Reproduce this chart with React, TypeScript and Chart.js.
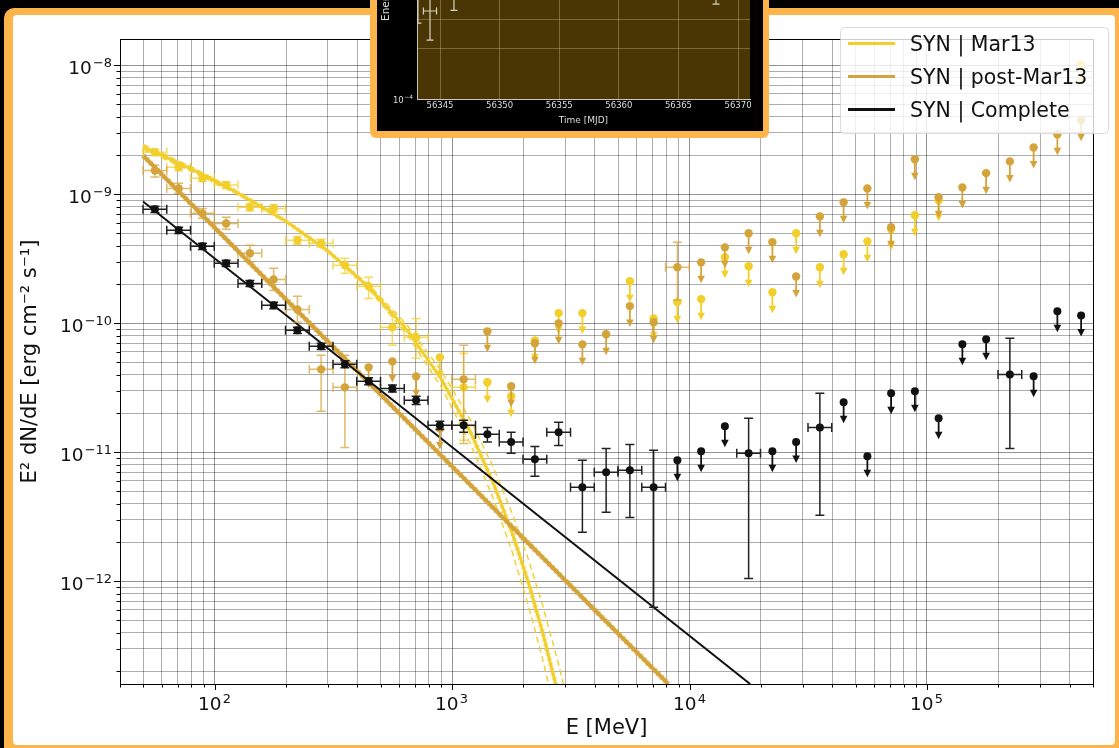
import React, { useEffect, useRef } from "react";
import { Chart, registerables } from "chart.js";

Chart.register(...registerables);

const FONT = "'DejaVu Sans', 'Liberation Sans', sans-serif";
const ORANGE = "#FDB44B";
const YELLOW = "#F2CF2A";
const GOLD = "#D4A43A";
const INK = "#111111";
const _ = null;

// Energy bin edges in MeV (ten bins per decade, 50 MeV - 500 GeV)
const energyEdges = [
  50, 62.95, 79.24, 99.76, 125.6, 158.1, 199.1, 250.6, 315.5, 397.2,
  500, 629.5, 792.4, 997.6, 1256, 1581, 1991, 2506, 3155, 3972,
  5000, 6295, 7924, 9976, 12559, 15811, 19905, 25059, 31548, 39716,
  50000, 62946, 79245, 99763, 125594, 158114, 199054, 250594, 315479, 397164,
  500000,
];

// Mar13 flare interval: detections, 1-sigma bounds and upper limits (erg cm^-2 s^-1)
const mar13Flux = [
  2.12e-9, 1.62e-9, 1.33e-9, 1.18e-9, 7.93e-10, 7.78e-10, 4.4e-10, 4.17e-10, 2.82e-10, 1.94e-10,
  9.31e-11, 7.79e-11, _, 3.19e-11, _, _, _, _, _, _,
  _, _, _, _, _, _, _, _, _, _,
  _, _, _, _, _, _, _, _, _, _,
];
const mar13Low = [
  2.0e-9, 1.53e-9, 1.26e-9, 1.11e-9, 7.45e-10, 7.3e-10, 4.1e-10, 3.88e-10, 2.44e-10, 1.56e-10,
  6.75e-11, 5.36e-11, _, 1.24e-11, _, _, _, _, _, _,
  _, _, _, _, _, _, _, _, _, _,
  _, _, _, _, _, _, _, _, _, _,
];
const mar13High = [
  2.24e-9, 1.71e-9, 1.41e-9, 1.25e-9, 8.45e-10, 8.3e-10, 4.72e-10, 4.48e-10, 3.19e-10, 2.28e-10,
  1.22e-10, 1.09e-10, _, 5.85e-11, _, _, _, _, _, _,
  _, _, _, _, _, _, _, _, _, _,
  _, _, _, _, _, _, _, _, _, _,
];
const mar13Limit = [
  _, _, _, _, _, _, _, _, _, _,
  _, _, 5.45e-11, _, 3.49e-11, 2.72e-11, 7.38e-11, 1.2e-10, 1.2e-10, _,
  2.12e-10, 1.09e-10, 1.46e-10, 1.54e-10, 3.25e-10, 2.77e-10, 1.74e-10, 4.99e-10, 2.72e-10, 3.43e-10,
  4.32e-10, 5.36e-10, 6.88e-10, 8.98e-10, _, _, _, _, _, 1.02e-8,
];

// post-Mar13 interval
const postFlux = [
  1.53e-9, 1.11e-9, 7.12e-10, 5.95e-10, 3.49e-10, 2.19e-10, 1.28e-10, 4.4e-11, 3.19e-11, _,
  _, _, _, 3.68e-11, _, _, _, _, _, _,
  _, _, 2.72e-10, _, _, _, _, _, _, _,
  _, _, _, _, _, _, _, _, _, _,
];
const postLow = [
  1.36e-9, 1.02e-9, 6.53e-10, 5.36e-10, 2.97e-10, 1.8e-10, 1.02e-10, 2.08e-11, 1.09e-11, _,
  _, _, _, 1.17e-11, _, _, _, _, _, _,
  _, _, 1.51e-10, _, _, _, _, _, _, _,
  _, _, _, _, _, _, _, _, _, _,
];
const postHigh = [
  1.68e-9, 1.22e-9, 7.78e-10, 6.64e-10, 4.03e-10, 2.67e-10, 1.62e-10, 5.65e-11, 5.65e-11, _,
  _, _, _, 6.75e-11, _, _, _, _, _, _,
  _, _, 4.25e-10, _, _, _, _, _, _, _,
  _, _, _, _, _, _, _, _, _, _,
];
const postLimit = [
  _, _, _, _, _, _, _, _, _, 4.56e-11,
  5.07e-11, 3.88e-11, 1.53e-11, _, 8.67e-11, 3.25e-11, 7.0e-11, 1.0e-10, 6.87e-11, 8.22e-11,
  1.36e-10, 1.02e-10, _, 2.97e-10, 3.88e-10, 4.99e-10, 4.25e-10, 2.31e-10, 6.75e-10, 8.67e-10,
  1.11e-9, 5.55e-10, 1.87e-9, 9.48e-10, 1.13e-9, 1.46e-9, 1.8e-9, 2.31e-9, 2.92e-9, 3.75e-9,
];

// Complete data set
const compFlux = [
  7.65e-10, 5.26e-10, 3.95e-10, 2.92e-10, 2.04e-10, 1.38e-10, 8.83e-11, 6.64e-11, 4.81e-11, 3.55e-11,
  3.13e-11, 2.53e-11, 1.62e-11, 1.62e-11, 1.38e-11, 1.2e-11, 8.83e-12, 1.43e-11, 5.36e-12, 7.0e-12,
  7.25e-12, 5.36e-12, _, _, _, 9.83e-12, _, _, 1.56e-11, _,
  _, _, _, _, _, _, 4.02e-11, _, _, _,
];
const compLow = [
  7.23e-10, 4.97e-10, 3.73e-10, 2.76e-10, 1.93e-10, 1.3e-10, 8.34e-11, 6.27e-11, 4.52e-11, 3.34e-11,
  2.94e-11, 2.35e-11, 1.5e-11, 1.43e-11, 1.2e-11, 9.83e-12, 6.52e-12, 1.13e-11, 2.4e-12, 3.43e-12,
  3.13e-12, 6.29e-13, _, _, _, 1.05e-12, _, _, 3.25e-12, _,
  _, _, _, _, _, _, 1.07e-11, _, _, _,
];
const compHigh = [
  8.07e-10, 5.55e-10, 4.17e-10, 3.08e-10, 2.15e-10, 1.46e-10, 9.32e-11, 7.01e-11, 5.12e-11, 3.78e-11,
  3.33e-11, 2.72e-11, 1.74e-11, 1.77e-11, 1.56e-11, 1.43e-11, 1.11e-11, 1.71e-11, 8.67e-12, 1.07e-11,
  1.15e-11, 1.04e-11, _, _, _, 1.84e-11, _, _, 2.87e-11, _,
  _, _, _, _, _, _, 7.65e-11, _, _, _,
];
const compLimit = [
  _, _, _, _, _, _, _, _, _, _,
  _, _, _, _, _, _, _, _, _, _,
  _, _, 8.67e-12, 1.02e-11, 1.59e-11, _, 1.02e-11, 1.2e-11, _, 2.44e-11,
  9.31e-12, 2.87e-11, 2.97e-11, 1.84e-11, 6.87e-11, 7.52e-11, _, 3.88e-11, 1.24e-10, 1.15e-10,
];

// Synchrotron model curves
const mar13ModelEnergy = [50, 80, 120, 200, 300, 450, 650, 900, 1200, 1500, 1800, 2100, 2400, 2800, 3200];
const mar13ModelBest = [2.33e-9, 1.57e-9, 1.07e-9, 6.18e-10, 3.64e-10, 1.88e-10, 8.79e-11, 3.72e-11, 1.42e-11, 5.66e-12, 2.32e-12, 9.7e-13, 4.11e-13, 1.33e-13, 4.4e-14];
const mar13ModelSteep = [2.44e-9, 1.63e-9, 1.1e-9, 6.28e-10, 3.64e-10, 1.81e-10, 8.05e-11, 3.21e-11, 1.15e-11, 4.28e-12, 1.65e-12, 6.45e-13, 2.56e-13, 7.6e-14, 2.3e-14];
const mar13ModelFlat = [2.23e-9, 1.51e-9, 1.045e-9, 6.1e-10, 3.64e-10, 1.96e-10, 9.6e-11, 4.31e-11, 1.76e-11, 7.51e-12, 3.29e-12, 1.47e-12, 6.65e-13, 2.35e-13, 8.4e-14];
const postModelEnergy = [50, 8140];
const postModelFlux = [2.0e-9, 1.6e-13];
const compModelEnergy = [50, 18000];
const compModelFlux = [8.8e-10, 1.6e-13];

const legendLabels = ["SYN | Mar13", "SYN | post-Mar13", "SYN | Complete"];

// Light-curve panel
const insetTime = [56343.15, 56344.16, 56346.17, 56368.15];
const insetTimeHalfWidth = [_, 0.55, _, _];
const insetFlux = [2.0e-2, 5.75e-3, 3.0e-2, 4.0e-2];
const insetFluxLow = [3.3e-3, 1.51e-3, 5.9e-3, 7.9e-3];
const insetFluxHigh = [6.0e-2, 2.0e-2, 8.0e-2, 1.0e-1];
const insetTimeTicks = [56345, 56350, 56355, 56360, 56365, 56370];
const insetFluxGrid = [1e-4, 1e-3, 3.98e-3];
const insetFluxTitle = "Energy flux [erg cm\u207B\u00B2 s\u207B\u00B9]";

const binCenters = energyEdges.slice(0, -1).map((lo, i) => Math.sqrt(lo * energyEdges[i + 1]));

function detections(flux: any[], low: any[], high: any[]) {
  const out: any[] = [];
  flux.forEach((f, i) => {
    if (f == null) return;
    out.push({ x: binCenters[i], y: f, xMin: energyEdges[i], xMax: energyEdges[i + 1], yMin: low[i], yMax: high[i] });
  });
  return out;
}
function limits(vals: any[]) {
  const out: any[] = [];
  vals.forEach((v, i) => {
    if (v == null) return;
    out.push({ x: binCenters[i], y: v, limit: true });
  });
  return out;
}
function curve(xs: number[], ys: number[]) {
  return xs.map((x, i) => ({ x, y: ys[i] }));
}

const isDecade = (v: number) => Math.abs(Math.log10(v) - Math.round(Math.log10(v))) < 1e-6;

function logTicks(min: number, max: number) {
  const ticks: any[] = [];
  for (let e = Math.floor(Math.log10(min)); e <= Math.ceil(Math.log10(max)); e++) {
    for (let m = 1; m <= 9; m++) {
      const v = m * Math.pow(10, e);
      if (v >= min * 0.9999 && v <= max * 1.0001) ticks.push({ value: v });
    }
  }
  return ticks;
}

function powerText(ctx: CanvasRenderingContext2D, exp: number, x: number, baseline: number, size: number, align: string, color: string) {
  const base = "10";
  const sup = exp < 0 ? "\u2212" + String(-exp) : String(exp);
  const supSize = size * 0.7;
  const gap = size * 0.06;
  ctx.font = `${size}px ${FONT}`;
  const w1 = ctx.measureText(base).width;
  ctx.font = `${supSize}px ${FONT}`;
  const w2 = ctx.measureText(sup).width + gap;
  const total = w1 + w2;
  const start = align === "center" ? x - total / 2 : align === "right" ? x - total : x;
  ctx.fillStyle = color;
  ctx.textAlign = "left";
  ctx.textBaseline = "alphabetic";
  ctx.font = `${size}px ${FONT}`;
  ctx.fillText(base, start, baseline);
  ctx.font = `${supSize}px ${FONT}`;
  ctx.fillText(sup, start + w1 + gap, baseline - size * 0.4);
}

// Error bars, caps and upper-limit arrows, drawn under each dataset's markers
const errorBarPlugin = {
  id: "errorBars",
  beforeDatasetDraw(chart: any, args: any) {
    const ds = chart.data.datasets[args.index];
    const eb = ds.errorBars;
    if (!eb) return;
    const { ctx, chartArea: a } = chart;
    const xs = chart.scales.x;
    const ys = chart.scales.y;
    ctx.save();
    ctx.beginPath();
    ctx.rect(a.left, a.top, a.right - a.left, a.bottom - a.top);
    ctx.clip();
    ctx.strokeStyle = eb.color;
    ctx.fillStyle = eb.arrowColor || eb.color;
    ctx.lineWidth = eb.width;
    const cap = eb.cap;
    ds.data.forEach((p: any) => {
      const px = xs.getPixelForValue(p.x);
      const py = ys.getPixelForValue(p.y);
      if (p.xMin != null && p.xMax != null) {
        const x0 = xs.getPixelForValue(p.xMin);
        const x1 = xs.getPixelForValue(p.xMax);
        ctx.beginPath();
        ctx.moveTo(x0, py); ctx.lineTo(x1, py);
        ctx.moveTo(x0, py - cap); ctx.lineTo(x0, py + cap);
        ctx.moveTo(x1, py - cap); ctx.lineTo(x1, py + cap);
        ctx.stroke();
      }
      if (p.yMin != null && p.yMax != null) {
        const y0 = ys.getPixelForValue(p.yMin);
        const y1 = ys.getPixelForValue(p.yMax);
        ctx.beginPath();
        ctx.moveTo(px, y0); ctx.lineTo(px, y1);
        ctx.moveTo(px - cap, y0); ctx.lineTo(px + cap, y0);
        ctx.moveTo(px - cap, y1); ctx.lineTo(px + cap, y1);
        ctx.stroke();
      }
      if (p.limit) {
        ctx.save();
        ctx.strokeStyle = eb.arrowColor || eb.color;
        ctx.lineWidth = 1.8;
        ctx.beginPath();
        ctx.moveTo(px, py); ctx.lineTo(px, py + 15);
        ctx.stroke();
        ctx.beginPath();
        ctx.moveTo(px - 3.8, py + 13.5);
        ctx.lineTo(px + 3.8, py + 13.5);
        ctx.lineTo(px, py + 21);
        ctx.closePath();
        ctx.fill();
        ctx.restore();
      }
    });
    ctx.restore();
  },
};

// Outer spines, tick marks and power-of-ten labels for the spectrum
const spectrumAxes = {
  id: "spectrumAxes",
  afterDraw(chart: any) {
    const { ctx, chartArea: a } = chart;
    const xs = chart.scales.x;
    const ys = chart.scales.y;
    ctx.save();
    ctx.strokeStyle = "#000";
    ctx.lineWidth = 1;
    ctx.beginPath();
    ctx.moveTo(Math.round(a.left) + 0.5, Math.round(a.top) + 0.5);
    ctx.lineTo(Math.round(a.right) + 0.5, Math.round(a.top) + 0.5);
    ctx.lineTo(Math.round(a.right) + 0.5, Math.round(a.bottom) + 0.5);
    ctx.stroke();
    xs.ticks.forEach((t: any) => {
      const px = Math.round(xs.getPixelForValue(t.value)) + 0.5;
      const major = isDecade(t.value);
      ctx.beginPath();
      ctx.moveTo(px, a.bottom);
      ctx.lineTo(px, a.bottom + (major ? 6 : 3.5));
      ctx.stroke();
      if (major) powerText(ctx, Math.round(Math.log10(t.value)), px - 1, a.bottom + 26, 18.5, "center", INK);
    });
    ys.ticks.forEach((t: any) => {
      const py = Math.round(ys.getPixelForValue(t.value)) + 0.5;
      const major = isDecade(t.value);
      ctx.beginPath();
      ctx.moveTo(a.left - (major ? 6 : 3.5), py);
      ctx.lineTo(a.left, py);
      ctx.stroke();
      if (major) powerText(ctx, Math.round(Math.log10(t.value)), a.left - 8, py + 8.5, 18.5, "right", INK);
    });
    ctx.restore();
  },
};

const cornerLegend = {
  id: "cornerLegend",
  afterDraw(chart: any) {
    const { ctx, chartArea: a } = chart;
    const items = chart.data.datasets
      .filter((d: any) => d.legendEntry)
      .sort((p: any, q: any) => legendLabels.indexOf(p.label) - legendLabels.indexOf(q.label));
    const w = 268;
    const h = 106;
    const bx = a.right + 15 - w;
    const by = a.top - 12;
    ctx.save();
    ctx.beginPath();
    ctx.roundRect(bx + 0.5, by + 0.5, w, h, 4);
    ctx.fillStyle = "rgba(255,255,255,0.8)";
    ctx.fill();
    ctx.strokeStyle = "rgba(210,210,210,0.8)";
    ctx.lineWidth = 1;
    ctx.stroke();
    items.forEach((d: any, i: number) => {
      const cy = by + 16.5 + i * 33;
      ctx.strokeStyle = d.borderColor;
      ctx.lineWidth = 3;
      ctx.setLineDash([]);
      ctx.beginPath();
      ctx.moveTo(bx + 8, cy);
      ctx.lineTo(bx + 55, cy);
      ctx.stroke();
      ctx.fillStyle = INK;
      ctx.font = `20.5px ${FONT}`;
      ctx.textAlign = "left";
      ctx.textBaseline = "alphabetic";
      ctx.fillText(d.label, bx + 70, cy + 7.5);
    });
    ctx.restore();
  },
};

const insetFrame = {
  id: "insetFrame",
  beforeDraw(chart: any) {
    const { ctx, chartArea: a } = chart;
    ctx.save();
    ctx.fillStyle = "#4a3605";
    ctx.fillRect(a.left, a.top, a.right - a.left, a.bottom - a.top);
    ctx.restore();
  },
  afterDraw(chart: any) {
    const { ctx, chartArea: a } = chart;
    const ys = chart.scales.y;
    const py = ys.getPixelForValue(insetFluxGrid[0]);
    powerText(ctx, Math.round(Math.log10(insetFluxGrid[0])), a.left - 4, py + 3.5, 8.5, "right", "#dddddd");
    // vertical axis title, read upwards, anchored a little above the bottom axis
    ctx.save();
    ctx.translate(12, a.bottom - 78);
    ctx.rotate(-Math.PI / 2);
    ctx.fillStyle = "#dddddd";
    ctx.font = `10.5px ${FONT}`;
    ctx.textAlign = "left";
    ctx.textBaseline = "alphabetic";
    ctx.fillText(insetFluxTitle, 0, 0);
    ctx.restore();
  },
};

function spectrumConfig(): any {
  const mar13Dash = { borderDash: [6, 4], borderWidth: 1.4 };
  const datasets: any[] = [
    {
      label: "Complete",
      data: detections(compFlux, compLow, compHigh),
      pointRadius: 4, pointBorderWidth: 0, pointBackgroundColor: INK,
      errorBars: { color: "#222", width: 1.5, cap: 4.5 }, order: 1,
    },
    {
      label: "Complete UL",
      data: limits(compLimit),
      pointRadius: 4, pointBorderWidth: 0, pointBackgroundColor: INK,
      errorBars: { color: "#222", arrowColor: INK, width: 1.5, cap: 4.5 }, order: 2,
    },
    {
      label: "post-Mar13",
      data: detections(postFlux, postLow, postHigh),
      pointRadius: 4.2, pointBorderWidth: 0, pointBackgroundColor: GOLD,
      errorBars: { color: "rgba(212,164,58,0.75)", width: 1.5, cap: 4.5 }, order: 4,
    },
    {
      label: "post-Mar13 UL",
      data: limits(postLimit),
      pointRadius: 4.2, pointBorderWidth: 0, pointBackgroundColor: GOLD,
      errorBars: { color: GOLD, width: 1.5, cap: 4.5 }, order: 5,
    },
    {
      label: "Mar13",
      data: detections(mar13Flux, mar13Low, mar13High),
      pointRadius: 4.2, pointBorderWidth: 0, pointBackgroundColor: YELLOW,
      errorBars: { color: "rgba(242,207,42,0.75)", width: 1.5, cap: 4.5 }, order: 6,
    },
    {
      label: "Mar13 UL",
      data: limits(mar13Limit),
      pointRadius: 4.2, pointBorderWidth: 0, pointBackgroundColor: YELLOW,
      errorBars: { color: YELLOW, width: 1.5, cap: 4.5 }, order: 7,
    },
    {
      label: legendLabels[2], legendEntry: true,
      data: curve(compModelEnergy, compModelFlux),
      showLine: true, pointRadius: 0, borderColor: INK, borderWidth: 2, order: 10,
    },
    {
      label: legendLabels[1], legendEntry: true,
      data: curve(postModelEnergy, postModelFlux),
      showLine: true, pointRadius: 0, borderColor: GOLD, borderWidth: 4, order: 11,
    },
    {
      label: "post-Mar13 band",
      data: curve(postModelEnergy, postModelFlux),
      showLine: true, pointRadius: 0, borderColor: "rgba(212,164,58,0.55)", borderWidth: 6, borderDash: [2, 3], order: 12,
    },
    {
      label: legendLabels[0], legendEntry: true,
      data: curve(mar13ModelEnergy, mar13ModelBest),
      showLine: true, pointRadius: 0, borderColor: YELLOW, borderWidth: 3, order: 13,
    },
    {
      label: "Mar13 band",
      data: curve(mar13ModelEnergy, mar13ModelBest),
      showLine: true, pointRadius: 0, borderColor: "rgba(242,207,42,0.5)", borderWidth: 5.5, borderDash: [2, 3], order: 14,
    },
    {
      label: "Mar13 steep",
      data: curve(mar13ModelEnergy, mar13ModelSteep),
      showLine: true, pointRadius: 0, borderColor: YELLOW, ...mar13Dash, order: 15,
    },
    {
      label: "Mar13 flat",
      data: curve(mar13ModelEnergy, mar13ModelFlat),
      showLine: true, pointRadius: 0, borderColor: YELLOW, ...mar13Dash, order: 16,
    },
  ];
  const gridColor = (c: any) => (c.tick && isDecade(c.tick.value) ? "rgba(0,0,0,0.42)" : "rgba(0,0,0,0.32)");
  return {
    type: "scatter",
    data: { datasets },
    options: {
      responsive: false,
      animation: false,
      layout: { padding: { top: 24, right: 22, left: 0, bottom: 0 } },
      plugins: { legend: { display: false }, tooltip: { enabled: false } },
      scales: {
        x: {
          type: "logarithmic", min: 40, max: 5e5,
          afterBuildTicks: (s: any) => { s.ticks = logTicks(40, 5e5); },
          afterFit: (s: any) => { s.height = 61; },
          ticks: { display: false, autoSkip: false },
          grid: { color: gridColor, lineWidth: 1, drawTicks: false },
          border: { display: true, color: "#000", width: 1 },
          title: { display: true, text: "E [MeV]", color: INK, font: { family: FONT, size: 21 }, padding: { top: 0, bottom: 4 } },
        },
        y: {
          type: "logarithmic", min: 1.6e-13, max: 1.6e-8,
          afterBuildTicks: (s: any) => { s.ticks = logTicks(1.6e-13, 1.6e-8); },
          afterFit: (s: any) => { s.width = 107; },
          ticks: { display: false, autoSkip: false },
          grid: { color: gridColor, lineWidth: 1, drawTicks: false },
          border: { display: true, color: "#000", width: 1 },
          title: {
            display: true, text: "E\u00B2 dN/dE [erg cm\u207B\u00B2 s\u207B\u00B9]", color: INK,
            font: { family: FONT, size: 21 }, padding: { top: 5, bottom: 0 },
          },
        },
      },
    },
    plugins: [errorBarPlugin, spectrumAxes, cornerLegend],
  };
}

function lightCurveConfig(): any {
  const points = insetTime.map((t, i) => ({
    x: t,
    y: insetFlux[i],
    xMin: insetTimeHalfWidth[i] == null ? null : t - (insetTimeHalfWidth[i] as number),
    xMax: insetTimeHalfWidth[i] == null ? null : t + (insetTimeHalfWidth[i] as number),
    yMin: insetFluxLow[i],
    yMax: insetFluxHigh[i],
  }));
  const grid = { color: "rgba(255,236,190,0.28)", lineWidth: 1, drawTicks: false };
  return {
    type: "scatter",
    data: {
      datasets: [
        { label: "Energy flux", data: points, pointRadius: 0, errorBars: { color: "#d6d1c2", width: 1.2, cap: 3.5 } },
      ],
    },
    options: {
      responsive: false,
      animation: false,
      layout: { padding: { top: 34, right: 13, left: 0, bottom: 0 } },
      plugins: { legend: { display: false }, tooltip: { enabled: false } },
      scales: {
        x: {
          type: "linear", min: 56343.07, max: 56371.0,
          afterBuildTicks: (s: any) => { s.ticks = insetTimeTicks.map((v) => ({ value: v })); },
          afterFit: (s: any) => { s.height = 32; },
          ticks: { color: "#dddddd", font: { family: FONT, size: 8.5 }, padding: 2, maxRotation: 0, autoSkip: false, callback: (v: any) => String(v) },
          grid,
          border: { display: true, color: "#cfc9b6", width: 1 },
          title: { display: true, text: "Time [MJD]", color: "#dddddd", font: { family: FONT, size: 9 }, padding: { top: 0, bottom: 4.5 } },
        },
        y: {
          type: "logarithmic", min: 1e-4, max: 25.1,
          afterBuildTicks: (s: any) => { s.ticks = insetFluxGrid.map((v) => ({ value: v })); },
          afterFit: (s: any) => { s.width = 40; },
          ticks: { display: false, autoSkip: false },
          grid,
          border: { display: true, color: "#cfc9b6", width: 1 },
        },
      },
    },
    plugins: [insetFrame, errorBarPlugin],
  };
}

export default function App() {
  const spectrumRef = useRef<HTMLCanvasElement>(null);
  const lightRef = useRef<HTMLCanvasElement>(null);

  useEffect(() => {
    Chart.defaults.font.family = FONT;
    const spectrum = new Chart(spectrumRef.current as HTMLCanvasElement, spectrumConfig());
    const light = new Chart(lightRef.current as HTMLCanvasElement, lightCurveConfig());
    return () => {
      spectrum.destroy();
      light.destroy();
    };
  }, []);

  return (
    <div style={{ position: "fixed", left: 0, top: 0, width: 1119, height: 748, background: "#000", overflow: "hidden", fontFamily: FONT }}>
      <div style={{ position: "absolute", left: 4, top: 8, width: 1140, height: 770, background: ORANGE, borderRadius: 10 }} />
      <div style={{ position: "absolute", left: 13, top: 15, width: 1102, height: 730, background: "#fff", borderRadius: 4 }}>
        <canvas ref={spectrumRef} width={1102} height={730} style={{ display: "block" }} />
      </div>
      <div style={{ position: "absolute", left: 370, top: -215, width: 399, height: 353, background: ORANGE, borderRadius: 6 }}>
        <div style={{ position: "absolute", left: 7, top: 10, width: 386, height: 336, background: "#000" }}>
          <canvas ref={lightRef} width={386} height={336} style={{ display: "block" }} />
        </div>
      </div>
    </div>
  );
}
